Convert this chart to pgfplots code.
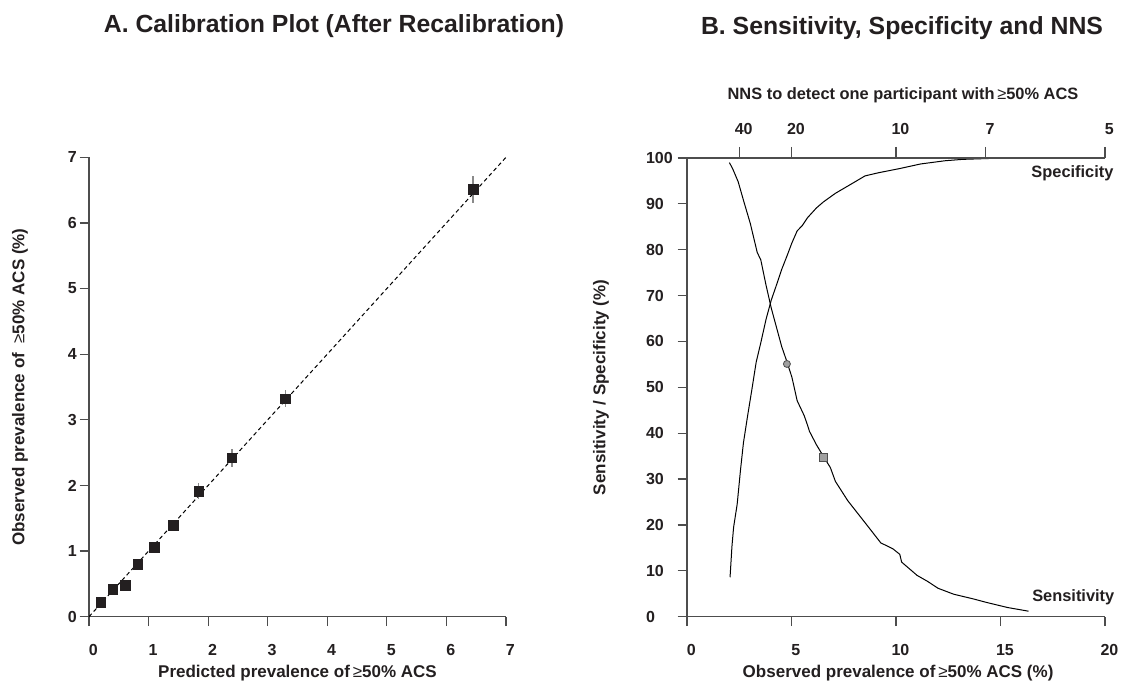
\documentclass[border=0pt]{standalone}
\usepackage{fontspec}
\setmainfont{Liberation Sans}
\usepackage{pgfplots}
\pgfplotsset{compat=1.18}
\definecolor{txt}{HTML}{231F20}
\definecolor{axc}{HTML}{4D4D4D}
\definecolor{ebar}{HTML}{8A8A8A}
\definecolor{mfill}{HTML}{A0A0A0}
\newcommand{\gesym}{{\mdseries ≥}}
\tikzset{ttl/.style={anchor=base, inner sep=0pt, font=\fontsize{12.4}{14}\selectfont\bfseries, text=txt}}
\pgfplotsset{
  base/.style={
    scale only axis,
    anchor=south west,
    clip=false,
    tick align=outside,
    major tick length=4.7pt,
    tick style={axc, line width=0.6pt},
    axis line style={axc, line width=0.6pt},
    /pgf/number format/assume math mode=true,
    tick label style={font=\fontsize{8}{9}\selectfont\bfseries, text=txt},
    label style={font=\fontsize{8.5}{10}\selectfont\bfseries, text=txt},
  },
}
\begin{document}
\begin{tikzpicture}
\path[use as bounding box] (0,0) rectangle (562.5pt,342pt);
% ---------------- Panel A ----------------
\begin{axis}[base,
  at={(44.5pt,33.65pt)},
  width=208.5pt, height=229.7pt,
  axis x line*=bottom, axis y line*=left,
  xmin=0, xmax=7, ymin=0, ymax=7,
  xtick={0,...,7}, ytick={0,...,7},
  xticklabel style={anchor=north, inner sep=0pt, xshift=2.2pt, yshift=-9pt},
  yticklabel style={anchor=east, inner sep=0pt, xshift=-1.25pt},
  xlabel={Predicted prevalence of\,\gesym50\% ACS},
  xlabel style={anchor=center, at={(axis description cs:0.5,-0.1226)}},
  ylabel={Observed prevalence of \ \gesym50\% ACS (\%)},
  ylabel style={anchor=center, at={(axis description cs:-0.1655,0.5)}},
]
\node[ttl] at (axis description cs:0.5875,1.2706) {A. Calibration Plot (After Recalibration)};
\addplot[black, line width=0.5pt, dash pattern=on 2pt off 1.5pt] coordinates {(0,0) (7,7)};
\addplot[forget plot, only marks, mark=none,
  error bars/.cd, y dir=both, y explicit, error mark=none,
  error bar style={ebar, line width=0.8pt}]
  coordinates {
  (0.20,0.22) +- (0,0.04)
  (0.40,0.42) +- (0,0.05)
  (0.61,0.48) +- (0,0.05)
  (0.82,0.80) +- (0,0.065)
  (1.10,1.06) +- (0,0.075)
  (1.42,1.39) +- (0,0.09)
  (1.84,1.91) +- (0,0.12)
  (2.40,2.42) +- (0,0.14)
  (3.30,3.32) +- (0,0.13)
  (6.45,6.51) +- (0,0.20)
  };
\addplot[only marks, mark=square*, mark size=2.4pt,
  mark options={fill=txt, draw=txt, line width=0.3pt}]
  coordinates {
  (0.20,0.22) (0.40,0.42) (0.61,0.48) (0.82,0.80) (1.10,1.06)
  (1.42,1.39) (1.84,1.91) (2.40,2.42) (3.30,3.32) (6.45,6.51)
  };
\end{axis}
% ---------------- Panel B ----------------
\begin{axis}[base,
  at={(343.5pt,33.65pt)},
  width=209pt, height=229.35pt,
  axis x line*=bottom, axis y line*=left,
  xmin=0, xmax=20, ymin=0, ymax=100,
  xtick={0,5,10,15,20}, ytick={0,10,...,100},
  xticklabel style={anchor=north, inner sep=0pt, xshift=2.2pt, yshift=-9pt},
  yticklabel style={anchor=west, inner sep=0pt, xshift=-16pt},
  xlabel={Observed prevalence of\,\gesym50\% ACS (\%)},
  xlabel style={anchor=center, at={(axis description cs:0.505,-0.1226)}},
  ylabel={Sensitivity / Specificity (\%)},
  ylabel style={anchor=center, at={(axis description cs:-0.2057,0.5)}},
]
\node[ttl] at (axis description cs:0.5144,1.2703) {B. Sensitivity, Specificity and NNS};
% Specificity
\addplot[black, line width=0.5pt] coordinates {
(2.06,8.6)(2.15,15.3)(2.23,19.5)(2.40,24.5)(2.56,32.0)(2.70,37.9)(2.90,43.8)
(3.11,49.7)(3.31,55.5)(3.53,59.7)(3.78,64.8)(4.03,69.0)(4.28,72.3)(4.53,75.7)
(4.78,78.6)(5.02,81.5)(5.27,84.1)(5.52,85.3)(5.77,87.0)(6.19,89.1)(6.52,90.4)
(7.10,92.3)(7.85,94.3)(8.52,96.1)(9.18,96.8)(10.18,97.7)(11.18,98.7)(12.35,99.4)
(13.18,99.7)(14.5,99.9)(16.3,100)
};
% Sensitivity
\addplot[black, line width=0.5pt] coordinates {
(2.03,99.0)(2.20,97.5)(2.45,94.8)(2.70,90.8)(3.03,85.7)(3.36,79.4)(3.53,77.8)
(3.78,72.3)(4.03,67.3)(4.28,63.1)(4.53,58.9)(4.78,55.6)(5.02,52.2)(5.27,47.1)
(5.61,43.8)(5.77,41.7)(5.86,40.4)(6.19,37.5)(6.52,35.0)(6.86,32.5)(7.10,29.5)
(7.69,25.3)(8.19,22.4)(8.69,19.5)(9.27,16.1)(9.85,14.8)(10.18,13.6)(10.27,11.9)
(11.01,9.0)(11.51,7.7)(12.01,6.2)(12.76,4.9)(13.68,3.9)(14.34,3.1)(15.34,2.0)
(16.34,1.2)
};
\addplot[only marks, mark=*, mark size=1.75pt, mark options={fill=mfill, draw=axc, line width=0.4pt}]
  coordinates {(4.78,55.1)};
\addplot[only marks, mark=square*, mark size=2.1pt, mark options={fill=mfill, draw=axc, line width=0.4pt}]
  coordinates {(6.52,34.7)};
\node[anchor=west, inner sep=0pt, font=\fontsize{8.2}{9}\selectfont\bfseries, text=txt] at (axis cs:16.46,96.7) {Specificity};
\node[anchor=west, inner sep=0pt, font=\fontsize{8.2}{9}\selectfont\bfseries, text=txt] at (axis cs:16.5,4.3) {Sensitivity};
\end{axis}
% Top NNS axis
\begin{axis}[base,
  at={(343.5pt,33.65pt)},
  width=209pt, height=229.35pt,
  axis x line*=top, axis y line=none,
  xmin=0, xmax=20, ymin=0, ymax=100,
  major tick length=5.5pt,
  xtick={2.5,5,10,14.2857,20}, xticklabels={40,20,10,7,5},
  xticklabel style={anchor=south, inner sep=0pt, xshift=2.2pt, yshift=6pt},
  xlabel={NNS to detect one participant with\,\gesym50\% ACS},
  xlabel style={anchor=center, at={(axis description cs:0.5167,1.1373)}, font=\fontsize{8.2}{10}\selectfont\bfseries},
]
\addplot[draw=none] coordinates {(0,0)};
\end{axis}
\end{tikzpicture}
\end{document}
